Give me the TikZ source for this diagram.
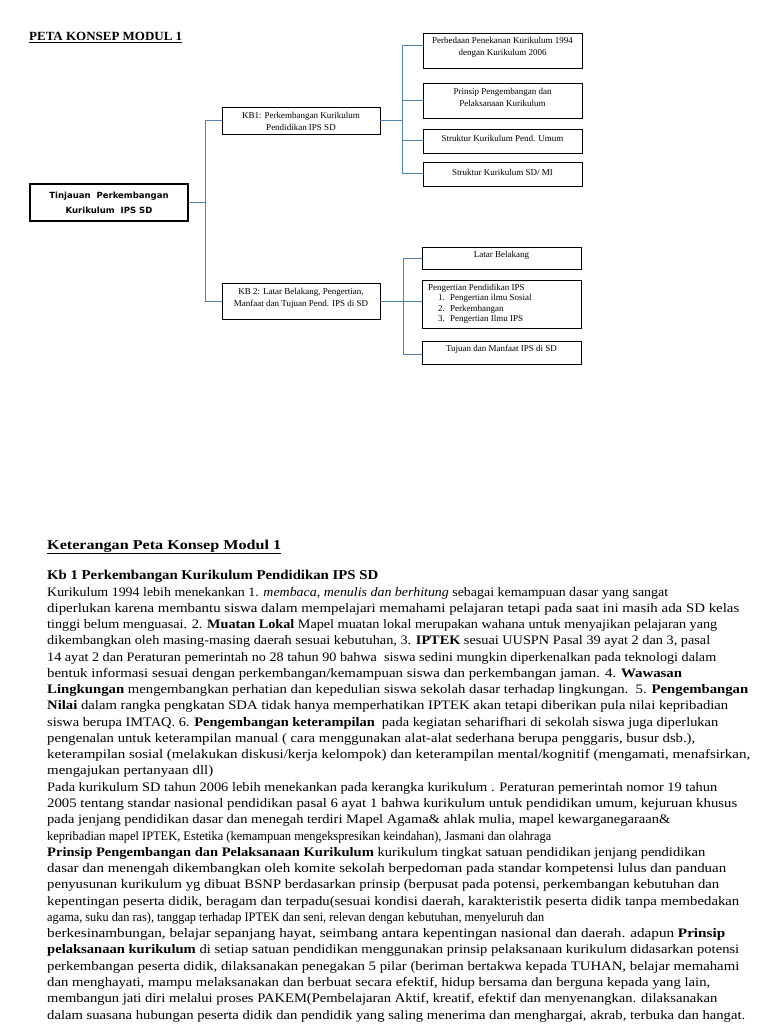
\documentclass[tikz,border=0pt]{standalone}
\usepackage{fontspec}
\setmainfont{Liberation Serif}
\newfontfamily\rootfont{DejaVu Sans}
\usepackage{graphicx}
\definecolor{linkblue}{RGB}{79,129,189}
\tikzset{
  box/.style={draw=black, line width=0.9pt, rectangle, inner sep=0pt},
  rootbox/.style={box, line width=1.2pt, align=center, font=\rootfont\bfseries\fontsize{8.5}{15}\selectfont},
  conn/.style={draw=linkblue, line width=1pt},
  btxt/.style={inner sep=0pt, align=center, font=\fontsize{9}{12}\selectfont},
  ltxt/.style={inner sep=0pt, anchor=west, font=\fontsize{9}{12}\selectfont},
  bodyline/.style={anchor=base west, inner sep=0pt, font=\fontsize{13}{16}\selectfont},
  headline/.style={anchor=base west, inner sep=0pt, font=\bfseries\fontsize{13.5}{16}\selectfont},
}
\newcommand\bodyln[4]{\node[bodyline] (#1) at (47,#2) {\resizebox{#3pt}{\height}{#4}};}
\begin{document}
\begin{tikzpicture}[x=1pt,y=-1pt]
\useasboundingbox (0,0) rectangle (768,1024);
\fill[white] (0,0) rectangle (768,1024);

% title
\node[anchor=base west, inner sep=0pt, font=\bfseries\fontsize{12.5}{15}\selectfont] (title) at (29,41) {\resizebox{153pt}{\height}{\underline{PETA KONSEP MODUL 1}}};

% boxes
\node[rootbox, minimum width=158pt, minimum height=37pt] (root) at (109,202.5) {Tinjauan\ \ Perkembangan\\Kurikulum\ \ IPS\ SD};
\node[box, minimum width=158pt, minimum height=27pt] (kb1) at (301,120.5) {};
\node[box, minimum width=158pt, minimum height=36pt] (kb2) at (301,301) {};
\node[box, minimum width=159pt, minimum height=35pt] (A) at (502.5,50.5) {};
\node[box, minimum width=159pt, minimum height=35pt] (B) at (502.5,100.5) {};
\node[box, minimum width=159pt, minimum height=24pt] (C) at (502.5,141) {};
\node[box, minimum width=159pt, minimum height=24pt] (D) at (502.5,174) {};
\node[box, minimum width=159pt, minimum height=22pt] (E) at (501.5,258) {};
\node[box, minimum width=159pt, minimum height=48pt] (F) at (501.5,304) {};
\node[box, minimum width=159pt, minimum height=23pt] (G) at (501.5,352.5) {};

% box texts
\node[btxt] (kb1t) at (301,121) {KB1: Perkembangan Kurikulum\\Pendidikan IPS SD};
\node[btxt] (kb2t) at (301,298) {KB 2: Latar Belakang, Pengertian,\\Manfaat dan Tujuan Pend. IPS di SD};
\node[btxt] (At) at (502.5,47) {Perbedaan Penekanan Kurikulum 1994\\dengan Kurikulum 2006};
\node[btxt] (Bt) at (502.5,97) {Prinsip Pengembangan dan\\Pelaksanaan Kurikulum};
\node[btxt] (Ct) at (502.5,138) {Struktur Kurikulum Pend. Umum};
\node[btxt] (Dt) at (502.5,172) {Struktur Kurikulum SD/ MI};
\node[btxt] (Et) at (501.5,255) {Latar Belakang};
\node[ltxt] (Ft0) at (428,288) {Pengertian Pendidikan IPS};
\node[ltxt] (Fn1) at (438,298) {1.};
\node[ltxt] (Ft1) at (450,298) {Pengertian ilmu Sosial};
\node[ltxt] (Fn2) at (438,309) {2.};
\node[ltxt] (Ft2) at (450,309) {Perkembangan};
\node[ltxt] (Fn3) at (438,319) {3.};
\node[ltxt] (Ft3) at (450,319) {Pengertian Ilmu IPS};
\node[btxt] (Gt) at (501.5,349) {Tujuan dan Manfaat IPS di SD};

% connectors
\coordinate (t1a) at (205,120.5);
\coordinate (t1b) at (205,301);
\coordinate (t2a) at (402,46);
\coordinate (t2d) at (402,174);
\coordinate (t3a) at (403,258);
\coordinate (t3c) at (403,354);
\draw[conn] (root.east) -- (root.east -| t1a);
\draw[conn] (kb1.west) -- (t1a) -- (t1b) -- (kb2.west);
\draw[conn] (kb1.east) -- (kb1.east -| t2a);
\draw[conn] (t2a) -- (t2d);
\draw[conn] (t2a) -- (t2a -| A.west);
\draw[conn] (B.west) -- (B.west -| t2a);
\draw[conn] (C.west) -- (C.west -| t2a);
\draw[conn] (D.west) -- (t2d);
\draw[conn] (kb2.east) -- (kb2.east -| F.west);
\draw[conn] (t3a) -- (t3c);
\draw[conn] (E.west) -- (t3a);
\draw[conn] (t3c) -- (t3c -| G.west);

% explanation text
\node[headline] (h1) at (47,549) {\resizebox{234pt}{\height}{\underline{Keterangan Peta Konsep Modul 1}}};
\node[headline] (h2) at (47,579) {\resizebox{331pt}{\height}{Kb 1 Perkembangan Kurikulum Pendidikan IPS SD}};

\bodyln{l1}{596.00}{621}{Kurikulum 1994 lebih menekankan 1. \textit{membaca, menulis dan berhitung} sebagai kemampuan dasar yang sangat}
\bodyln{l2}{612.27}{692}{diperlukan karena membantu siswa dalam mempelajari memahami pelajaran tetapi pada saat ini masih ada SD kelas}
\bodyln{l3}{628.54}{670}{tinggi belum menguasai. 2. \textbf{Muatan Lokal} Mapel muatan lokal merupakan wahana untuk menyajikan pelajaran yang}
\bodyln{l4}{644.81}{663}{dikembangkan oleh masing-masing daerah sesuai kebutuhan, 3. \textbf{IPTEK} sesuai UUSPN Pasal 39 ayat 2 dan 3, pasal}
\bodyln{l5}{661.08}{669}{14 ayat 2 dan Peraturan pemerintah no 28 tahun 90 bahwa\ \ siswa sedini mungkin diperkenalkan pada teknologi dalam}
\bodyln{l6}{677.35}{635}{bentuk informasi sesuai dengan perkembangan/kemampuan siswa dan perkembangan jaman. 4. \textbf{Wawasan}}
\bodyln{l7}{693.62}{701}{\textbf{Lingkungan} mengembangkan perhatian dan kepedulian siswa sekolah dasar terhadap lingkungan.\ \ 5. \textbf{Pengembangan}}
\bodyln{l8}{709.89}{681}{\textbf{Nilai} dalam rangka pengkatan SDA tidak hanya memperhatikan IPTEK akan tetapi diberikan pula nilai kepribadian}
\bodyln{l9}{726.16}{671}{siswa berupa IMTAQ. 6. \textbf{Pengembangan keterampilan}\ \ pada kegiatan seharifhari di sekolah siswa juga diperlukan}
\bodyln{l10}{742.43}{648}{pengenalan untuk keterampilan manual ( cara menggunakan alat-alat sederhana berupa penggaris, busur dsb.),}
\bodyln{l11}{758.70}{703}{keterampilan sosial (melakukan diskusi/kerja kelompok) dan keterampilan mental/kognitif (mengamati, menafsirkan,}
\bodyln{l12}{774.97}{166}{mengajukan pertanyaan dll)}
\bodyln{l13}{791.24}{670}{Pada kurikulum SD tahun 2006 lebih menekankan pada kerangka kurikulum . Peraturan pemerintah nomor 19 tahun}
\bodyln{l14}{807.51}{690}{2005 tentang standar nasional pendidikan pasal 6 ayat 1 bahwa kurikulum untuk pendidikan umum, kejuruan khusus}
\bodyln{l15}{823.78}{623}{pada jenjang pendidikan dasar dan menegah terdiri Mapel Agama\& ahlak mulia, mapel kewarganegaraan\&}
\bodyln{l16}{840.05}{504}{kepribadian mapel IPTEK, Estetika (kemampuan mengekspresikan keindahan), Jasmani dan olahraga}
\bodyln{l17}{856.32}{658}{\textbf{Prinsip Pengembangan dan Pelaksanaan Kurikulum} kurikulum tingkat satuan pendidikan jenjang pendidikan}
\bodyln{l18}{872.59}{679}{dasar dan menengah dikembangkan oleh komite sekolah berpedoman pada standar kompetensi lulus dan panduan}
\bodyln{l19}{888.86}{672}{penyusunan kurikulum yg dibuat BSNP berdasarkan prinsip (berpusat pada potensi, perkembangan kebutuhan dan}
\bodyln{l20}{905.13}{692}{kepentingan peserta didik, beragam dan terpadu(sesuai kondisi daerah, karakteristik peserta didik tanpa membedakan}
\bodyln{l21}{921.40}{497}{agama, suku dan ras), tanggap terhadap IPTEK dan seni, relevan dengan kebutuhan, menyeluruh dan}
\bodyln{l22}{937.67}{678}{berkesinambungan, belajar sepanjang hayat, seimbang antara kepentingan nasional dan daerah. adapun \textbf{Prinsip}}
\bodyln{l23}{953.94}{692}{\textbf{pelaksanaan kurikulum} di setiap satuan pendidikan menggunakan prinsip pelaksanaan kurikulum didasarkan potensi}
\bodyln{l24}{970.21}{692}{perkembangan peserta didik, dilaksanakan penegakan 5 pilar (beriman bertakwa kepada TUHAN, belajar memahami}
\bodyln{l25}{986.48}{663}{dan menghayati, mampu melaksanakan dan berbuat secara efektif, hidup bersama dan berguna kepada yang lain,}
\bodyln{l26}{1002.75}{670}{membangun jati diri melalui proses PAKEM(Pembelajaran Aktif, kreatif, efektif dan menyenangkan. dilaksanakan}
\bodyln{l27}{1019.02}{698}{dalam suasana hubungan peserta didik dan pendidik yang saling menerima dan menghargai, akrab, terbuka dan hangat.}
\end{tikzpicture}
\end{document}
